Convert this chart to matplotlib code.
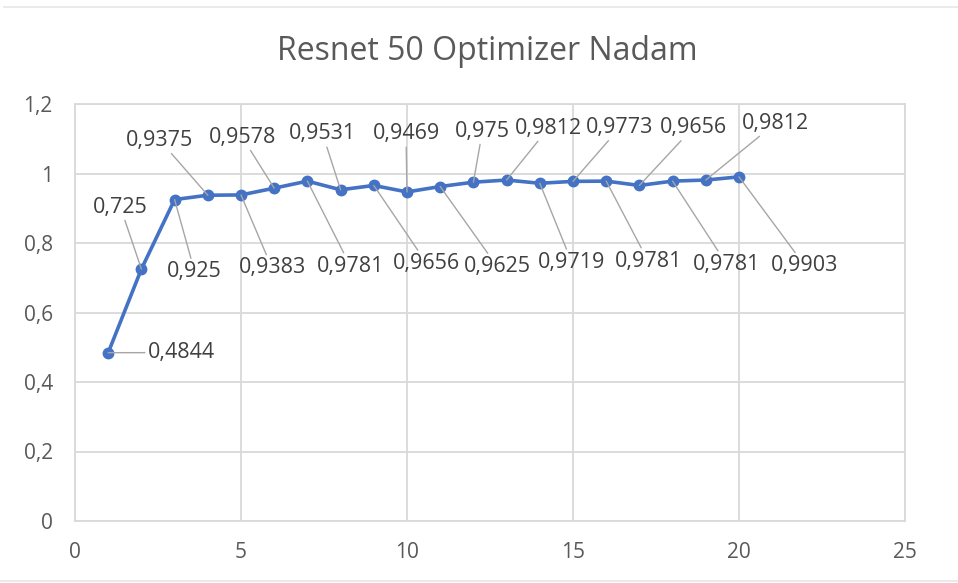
import matplotlib.pyplot as plt
from matplotlib.lines import Line2D

# epochs and accuracy values
epochs = list(range(1, 21))
accuracy = [0.4844, 0.725, 0.925, 0.9375, 0.9383, 0.9578, 0.9781, 0.9531, 0.9656, 0.9469,
            0.9625, 0.975, 0.9812, 0.9719, 0.9773, 0.9781, 0.9656, 0.9781, 0.9812, 0.9903]
labels = [f"{v:g}".replace(".", ",") for v in accuracy]

x_ticks = [0, 5, 10, 15, 20, 25]
y_ticks = [0, 0.2, 0.4, 0.6, 0.8, 1.0, 1.2]
y_ticklabels = ["0", "0,2", "0,4", "0,6", "0,8", "1", "1,2"]

# label offsets in pixels (dx, dy) from each point
offsets = [(73, 0), (-21, 62), (20, -72), (-48, 55), (31, -73), (-32, 51), (43, -85),
           (-18, 56), (53, -78), (-1, 58), (57, -80), (9, 51), (42, 52), (32, -79),
           (47, 54), (42, -80), (54, 58), (54, -83), (70, 57), (66, -89)]

TXT = "#595959"
GRID = "#d9d9d9"
plt.rcParams['font.family'] = ['Open Sans', 'DejaVu Sans']


def main():
    fig = plt.figure(figsize=(9.58, 5.83), dpi=100)
    ax = fig.add_axes([75 / 958, 62 / 583, 830 / 958, 417 / 583])

    ax.plot(epochs, accuracy, color="#4472C4", lw=2.6, marker="o", ms=7.5, zorder=3)

    for x, y, lab, (dx, dy) in zip(epochs, accuracy, labels, offsets):
        ax.annotate(lab, (x, y), xytext=(dx, dy), textcoords="offset pixels",
                    ha="center", va="center", fontsize=15.5, color="#404040",
                    arrowprops=dict(arrowstyle="-", color="#a6a6a6", lw=1,
                                    shrinkA=0, shrinkB=0))

    ax.set_xlim(0, 25)
    ax.set_ylim(0, 1.2)
    ax.set_xticks(x_ticks)
    ax.set_yticks(y_ticks)
    ax.set_yticklabels(y_ticklabels)
    ax.tick_params(length=0, labelsize=15, labelcolor=TXT)
    ax.tick_params(axis="y", pad=16)
    ax.tick_params(axis="x", pad=15)
    ax.grid(True, color=GRID, lw=1.3)
    ax.set_axisbelow(True)
    for s in ax.spines.values():
        s.set_color(GRID)
        s.set_linewidth(1.3)

    fig.text(487 / 958, 1 - 52 / 583, "Resnet 50 Optimizer Nadam", ha="center", va="center",
             fontsize=23, color=TXT)

    # thin frame lines at top and bottom of the picture
    fig.add_artist(Line2D([4 / 958, 1], [1 - 7 / 583] * 2, color="#e6e6e6", lw=1.2))
    fig.add_artist(Line2D([0, 1], [2 / 583] * 2, color="#e6e6e6", lw=1.2))

    fig.savefig("out.png", dpi=100)


if __name__ == "__main__":
    main()
